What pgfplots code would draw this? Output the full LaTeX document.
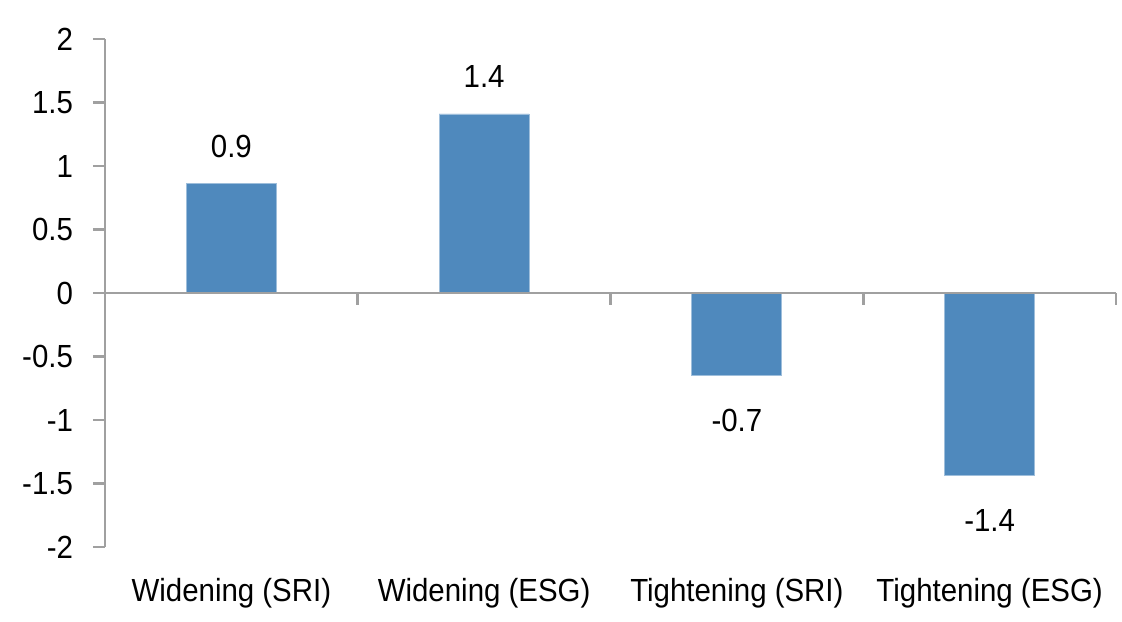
\documentclass[border=0pt]{standalone}
\usepackage{fontspec}
\setmainfont{Liberation Sans}[FakeStretch=0.92]
\usepackage{pgfplots}
\pgfplotsset{compat=1.18}
\definecolor{barblue}{RGB}{79,137,189}
\definecolor{axgray}{RGB}{160,160,160}
\begin{document}
\begin{tikzpicture}
\begin{axis}[
  scale only axis, width=505.5pt, height=254pt,
  xmin=-0.5, xmax=3.5, ymin=-2, ymax=2,
  ybar, bar width=45pt,
  axis y line*=left, axis x line*=bottom,
  x axis line style={draw=none},
  y axis line style={draw=axgray, line width=1.3pt},
  ytick={-2,-1.5,-1,-0.5,0,0.5,1,1.5,2},
  yticklabels={-2,-1.5,-1,-0.5,0,0.5,1,1.5,2},
  xtick={0,1,2,3},
  xticklabels={Widening (SRI),Widening (ESG),Tightening (SRI),Tightening (ESG)},
  x tick style={draw=none},
  y tick style={draw=axgray, line width=1.3pt},
  tick align=outside, major tick length=6pt,
  ticklabel style={font=\fontsize{16}{19}\selectfont},
  yticklabel style={xshift=-6.5pt},
  xticklabel style={yshift=-6pt},
  clip=false,
]
\addplot[bar shift=0pt, fill=barblue, draw=barblue!55!white, line width=0.4pt,
  nodes near coords, point meta=explicit symbolic,
  nodes near coords style={font=\fontsize{16}{19}\selectfont, anchor=south, inner ysep=13pt, text=black}]
  table[x=x, y=y, meta=lab] {
x y lab
0 0.86 0.9
1 1.41 1.4
};
\addplot[bar shift=0pt, fill=barblue, draw=barblue!55!white, line width=0.4pt,
  nodes near coords, point meta=explicit symbolic,
  nodes near coords style={font=\fontsize{16}{19}\selectfont, anchor=north, inner ysep=16.5pt, text=black}]
  table[x=x, y=y, meta=lab] {
x y lab
2 -0.65 -0.7
3 -1.44 -1.4
};
\draw[axgray, line width=1.3pt] (axis cs:-0.5,0) -- (axis cs:3.5,0);
\pgfplotsinvokeforeach{0.5,1.5,2.5,3.5}{
  \draw[axgray, line width=1.3pt] (axis cs:#1,0) -- ++(0pt,-6pt);
}
\coordinate (bl) at (rel axis cs:0,0);
\coordinate (tr) at (rel axis cs:1,1);
\end{axis}
\pgfresetboundingbox
\path[use as bounding box] ([xshift=-52.5pt,yshift=-37pt]bl) rectangle ([xshift=3pt,yshift=19.5pt]tr);
\end{tikzpicture}
\end{document}
